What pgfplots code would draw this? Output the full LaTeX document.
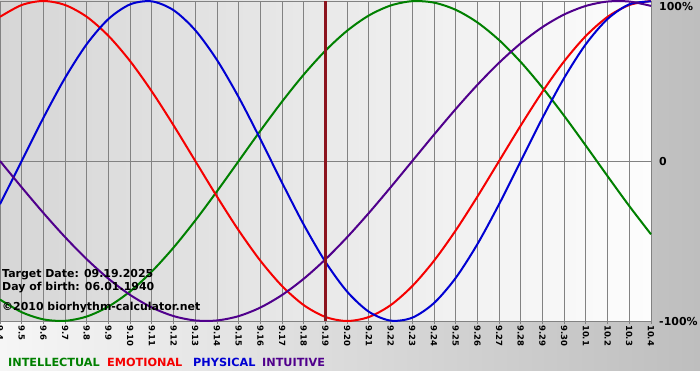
\documentclass[border=0pt]{standalone}
\usepackage{pgfplots}
\usepackage{pgfplotstable}
\pgfplotsset{compat=1.18}
\usepackage{fontspec}
\setmainfont{DejaVu Sans}
\definecolor{cint}{RGB}{0,128,0}
\definecolor{cemo}{RGB}{245,0,0}
\definecolor{cphy}{RGB}{0,0,210}
\definecolor{cintu}{RGB}{80,0,140}
\definecolor{gridc}{RGB}{130,130,130}
\definecolor{markc}{RGB}{140,20,30}
\definecolor{bgl}{RGB}{246,246,246}
\definecolor{bgr}{RGB}{190,190,190}
\definecolor{pal}{RGB}{214,214,214}
\definecolor{par}{RGB}{253,253,253}

\pgfplotstableread{
t int emo phy intu
0 -86.60 90.10 -26.98 0
1 -94.50 97.49 0 -16.46
2 -98.98 100 26.98 -32.47
3 -99.89 97.49 51.96 -47.59
4 -97.18 90.10 73.08 -61.42
5 -90.96 78.18 88.79 -73.57
6 -81.46 62.35 97.91 -83.72
7 -69.01 43.39 99.77 -91.58
8 -54.06 22.25 94.23 -96.94
9 -37.17 0 81.70 -99.66
10 -18.93 -22.25 63.11 -99.66
11 0 -43.39 39.84 -96.94
12 18.93 -62.35 13.62 -91.58
13 37.17 -78.18 -13.62 -83.72
14 54.06 -90.10 -39.84 -73.57
15 69.01 -97.49 -63.11 -61.42
16 81.46 -100 -81.70 -47.59
17 90.96 -97.49 -94.23 -32.47
18 97.18 -90.10 -99.77 -16.46
19 99.89 -78.18 -97.91 0
20 98.98 -62.35 -88.79 16.46
21 94.50 -43.39 -73.08 32.47
22 86.60 -22.25 -51.96 47.59
23 75.57 0 -26.98 61.42
24 61.82 22.25 0 73.57
25 45.82 43.39 26.98 83.72
26 28.17 62.35 51.96 91.58
27 9.51 78.18 73.08 96.94
28 -9.51 90.10 88.79 99.66
29 -28.17 97.49 97.91 99.66
30 -45.82 100 99.77 96.94
}\bio

\begin{document}
\begin{tikzpicture}[x=1bp,y=1bp]
\useasboundingbox (0,0) rectangle (700,380);
\fill[white] (0,0) rectangle (700,380);
\shade[left color=bgl, right color=bgr] (0,10) rectangle (700,380);
\shade[left color=pal, right color=par] (0,59) rectangle (651,380);
\begin{axis}[
  at={(0bp,379bp)}, anchor=north west,
  scale only axis, width=651bp, height=320bp,
  xmin=0, xmax=30, ymin=-100, ymax=100,
  clip=false,
  axis line style={gridc, line width=0.9bp},
  xtick={0,...,30},
  xticklabels={9.4,9.5,9.6,9.7,9.8,9.9,9.10,9.11,9.12,9.13,9.14,9.15,9.16,9.17,9.18,9.19,9.20,9.21,9.22,9.23,9.24,9.25,9.26,9.27,9.28,9.29,9.30,10.1,10.2,10.3,10.4},
  xtick pos=lower,
  ytick={-100,0,100},
  yticklabels={},
  ytick style={draw=none},
  xmajorgrids, ymajorgrids,
  grid style={gridc, line width=0.9bp},
  xtick style={gridc, line width=0.9bp},
  major tick length=3bp,
  tick align=outside,
  xticklabel style={rotate=-90, anchor=west, inner sep=1bp, font=\bfseries\fontsize{8.5}{9}\selectfont},
]
\addplot[cint, line width=2bp, smooth] table[x=t, y=int] {\bio};
\addplot[cemo, line width=2bp, smooth] table[x=t, y=emo] {\bio};
\addplot[cphy, line width=2bp, smooth] table[x=t, y=phy] {\bio};
\addplot[cintu, line width=2bp, smooth] table[x=t, y=intu] {\bio};
\addplot[markc, line width=2.2bp] coordinates {(15,-100) (15,100)};
\end{axis}
\begin{scope}[every node/.style={inner sep=0pt, font=\bfseries\fontsize{11}{13}\selectfont}]
\node[anchor=base west] at (2,103) {Target Date: 09.19.2025};
\node[anchor=base west] at (2,90) {Day of birth: 06.01.1940};
\node[anchor=base west] at (2,69.5) {©2010 biorhythm-calculator.net};
\node[anchor=west] at (659,373) {100\%};
\node[anchor=west] at (659,218) {0};
\node[anchor=west] at (659,58) {-100\%};
\begin{scope}[every node/.style={inner sep=0pt, font=\bfseries\fontsize{11.3}{13}\selectfont}]
\node[anchor=base west, text=cint] at (8,14) {INTELLECTUAL};
\node[anchor=base west, text=cemo] at (107,14) {EMOTIONAL};
\node[anchor=base west, text=cphy] at (193,14) {PHYSICAL};
\node[anchor=base west, text=cintu] at (262,14) {INTUITIVE};
\end{scope}
\end{scope}
\end{tikzpicture}
\end{document}
